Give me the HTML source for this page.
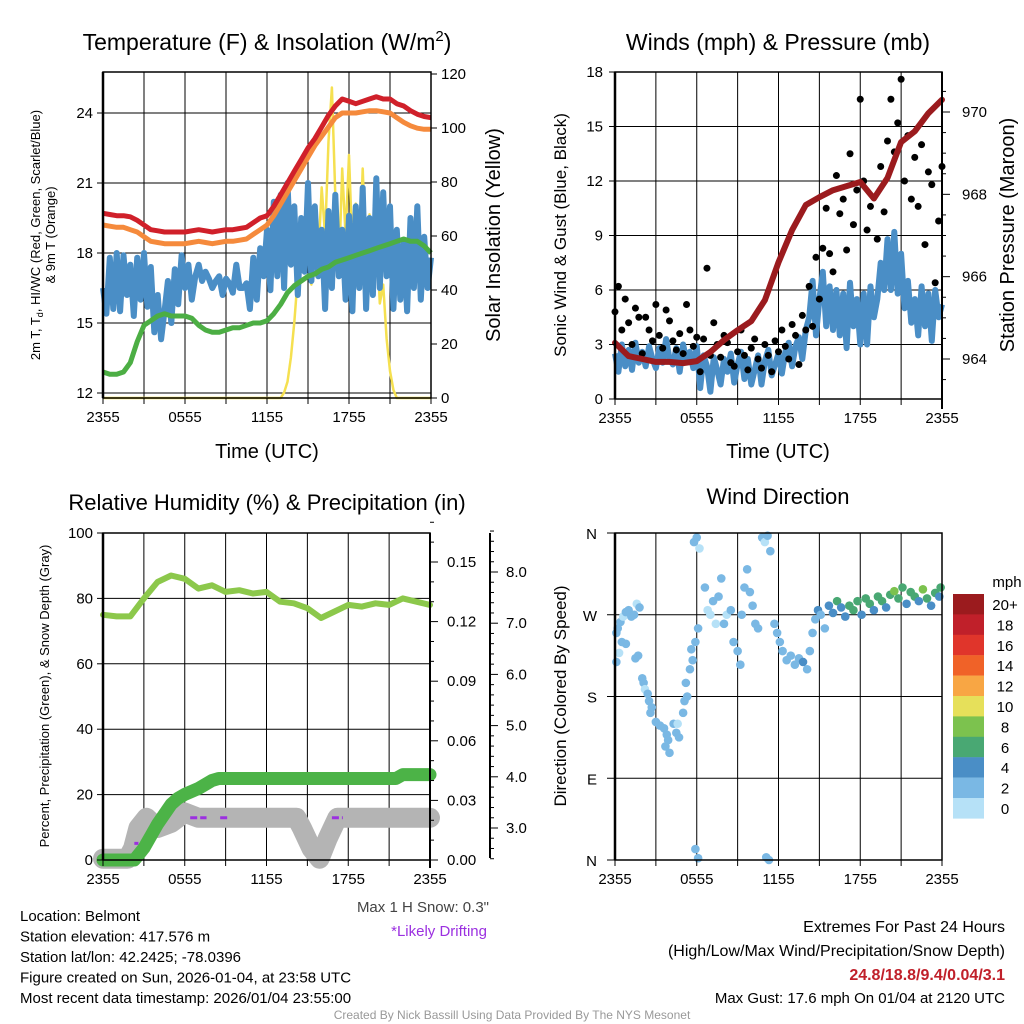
<!DOCTYPE html>
<html><head><meta charset="utf-8">
<style>
html,body{margin:0;padding:0;background:#fff;}
svg{display:block;font-family:"Liberation Sans",Arial,sans-serif;}
</style></head>
<body>
<svg id="c" width="1024" height="1024" viewBox="0 0 1024 1024" xmlns="http://www.w3.org/2000/svg"></svg>
<script>
// ---------- DATA ----------
const timeLabels = ["2355","0555","1155","1755","2355"];
// Panel 1 (every 0.5 h)
const tempRed = [19.7,19.65,19.6,19.6,19.55,19.4,19.2,19.0,18.95,18.9,18.9,18.9,18.9,18.95,19.0,18.95,18.9,18.95,19.0,19.0,19.05,19.1,19.3,19.5,19.6,20.0,20.5,21.0,21.5,22.0,22.5,22.9,23.4,23.9,24.3,24.6,24.5,24.4,24.5,24.6,24.7,24.6,24.6,24.4,24.3,24.1,23.95,23.85,23.8];
const temp9m = [19.2,19.15,19.1,19.1,19.0,18.9,18.7,18.5,18.45,18.4,18.4,18.4,18.4,18.45,18.5,18.45,18.4,18.45,18.5,18.5,18.55,18.6,18.8,19.0,19.2,19.6,20.1,20.6,21.1,21.6,22.1,22.6,23.0,23.4,23.8,24.0,24.0,24.0,24.05,24.1,24.1,24.05,24.0,23.8,23.6,23.45,23.35,23.3,23.3];
const dewpt = [12.9,12.8,12.8,12.9,13.3,14.2,14.9,15.1,15.3,15.4,15.3,15.3,15.3,15.2,14.9,14.7,14.6,14.6,14.7,14.8,14.8,14.9,15.0,15.0,15.1,15.4,15.8,16.3,16.6,16.8,17.0,17.1,17.3,17.4,17.6,17.7,17.8,17.9,18.0,18.1,18.2,18.3,18.4,18.5,18.6,18.5,18.5,18.3,18.0];
// every 15 min
const windChill = [16.5,15.4,17.8,15.6,18.0,15.5,17.9,16.2,17.5,15.3,17.8,16.0,18.0,15.7,17.4,14.6,16.2,14.3,15.5,16.8,15.0,17.3,15.8,17.9,16.5,17.5,16.0,17.0,17.5,16.8,17.2,16.9,16.5,16.8,17.0,16.2,16.9,16.7,16.3,17.5,16.5,16.5,16.7,15.6,17.8,16.0,18.2,17.0,19.0,16.4,20.2,17.0,20.5,16.5,21.0,17.5,20.0,16.2,19.5,17.2,21.0,16.8,20.0,17.0,19.0,15.6,19.8,16.5,20.5,17.0,19.0,16.0,19.6,15.5,20.0,16.5,20.8,15.6,19.5,16.2,21.2,16.5,20.6,17.0,20.0,15.6,19.0,16.0,18.5,15.5,19.5,16.5,20.0,16.0,18.7,16.5,17.8];
const solar = [0,0,0,0,0,0,0,0,0,0,0,0,0,0,0,0,0,0,0,0,0,0,0,0,0,0,0,0,0,0,0,0,0,0,0,0,0,0,0,0,0,0,0,0,0,0,0,0,0,0,0,0,0,2,6,15,28,45,55,48,60,42,70,52,78,60,95,115,75,45,85,60,90,55,72,48,85,52,68,40,62,35,42,22,10,3,0,0,0,0,0,0,0,0,0,0,0];
// Panel 2
const sonicWind = [2.5,1.5,3.0,1.8,2.7,1.6,3.1,2.0,2.6,1.8,2.9,2.2,1.7,2.8,2.0,3.3,2.2,1.9,2.8,1.5,3.0,2.1,2.6,1.7,2.9,0.6,2.4,1.8,0.4,2.3,1.6,0.8,2.2,1.5,2.5,0.9,1.9,2.6,1.1,2.2,0.8,1.6,2.4,0.8,2.1,2.7,1.3,1.9,2.5,1.4,2.6,3.1,1.8,2.9,3.4,2.2,3.8,4.5,6.5,3.5,5.5,7.0,4.0,6.2,3.8,6.0,3.5,5.8,2.8,6.4,4.0,5.5,3.0,5.8,3.0,6.2,4.5,5.5,7.5,6.0,8.8,6.0,9.2,5.8,8.0,5.0,6.5,4.2,5.5,3.5,6.2,4.0,5.8,3.2,6.0,4.5,5.2];
const gust = [4.8,6.2,3.8,5.5,4.2,3.0,5.0,4.5,2.5,4.5,3.8,3.2,5.2,3.5,2.8,4.9,4.3,3.2,2.7,3.6,2.5,5.2,3.8,2.9,3.4,1.5,3.3,7.2,2.4,4.2,3.0,2.3,3.5,3.1,2.0,1.8,2.6,3.8,2.4,1.6,2.8,3.3,2.2,1.7,3.0,2.4,1.5,3.2,2.6,3.8,2.9,2.2,4.1,3.5,1.9,4.6,3.8,6.2,4.0,7.8,5.5,8.3,10.5,8.0,7.0,12.3,10.2,11.0,8.2,13.5,9.6,11.5,16.5,12.0,9.3,10.6,11.1,8.8,12.8,10.3,14.2,16.5,13.6,15.2,17.6,12.0,14.5,11.0,13.3,10.6,14.0,8.5,12.5,11.8,6.4,9.8,12.8];
const pressure = [964.39,964.07,964.0,963.93,963.93,963.9,963.95,964.17,964.46,964.7,964.92,965.43,966.35,967.13,967.74,967.93,968.1,968.2,968.3,967.9,968.4,969.27,969.53,969.97,970.3];
// Panel 3
const rh = [75,74.5,74.5,80,85,87,86,83,84,82,82.5,81.5,82,79,78.5,77,74,76,78,77.5,78.5,78,80,79,78];
const precipH = [0,2.3,3,3.5,4,4.5,5,5.5,6,7,8,8.5,21.5,22,24];
const precipV = [0,0,0.006,0.012,0.018,0.023,0.028,0.031,0.033,0.036,0.04,0.041,0.041,0.043,0.043];
const snowH = [0,1.8,2.2,2.6,3.2,4,5,6,7,14.2,14.6,15.3,15.9,16.5,17.2,24];
const snowV = [2.4,2.4,2.6,3.0,3.2,3.0,3.1,3.3,3.2,3.2,3.0,2.6,2.4,2.8,3.2,3.2];
const driftStart = [2.3,6.4,8.6,16.8];
const driftEnd = [2.6,7.6,9.2,17.6];
const driftV = [2.7,3.2,3.2,3.2];
// Panel 4
const dirH = [0.1,0.2,0.4,0.6,0.8,1,1.2,1.4,1.6,1.8,0.5,0.8,0.3,0.1,1.5,1.7,2,2.1,2.2,2.4,2.5,2.7,2.6,3.0,3.3,3.6,3.8,3.7,4.0,3.9,4.3,4.5,4.7,4.6,5.0,5.1,5.3,5.2,5.5,5.7,5.6,5.9,6.1,5.8,6.0,6.2,5.9,6.1,6.6,6.8,7.0,7.2,7.4,7.6,7.8,8.0,8.2,8.5,8.7,9.0,9.2,9.3,9.5,9.7,9.9,10.1,10.3,10.5,10.8,11.0,11.2,11.4,11.1,11.3,11.7,11.9,12.1,12.3,12.6,12.9,13.2,13.5,13.8,14.1,14.3,14.5,14.7,14.9,15.1,15.4,15.7,16.0,16.3,16.6,16.9,17.2,17.5,17.8,18.1,18.4,18.7,19.0,19.3,19.6,19.9,20.2,20.5,20.8,21.1,21.4,21.7,22.0,22.3,22.6,22.9,23.2,23.5,23.8,23.9];
const dirV = [250,255,262,268,273,275,268,270,282,278,240,238,228,218,222,225,200,195,188,183,175,168,162,152,148,145,138,125,118,132,150,140,135,150,162,175,180,195,210,220,232,240,255,350,355,343,12,2,300,275,270,285,260,290,310,260,270,275,240,230,215,270,300,320,295,280,260,255,355,350,357,340,3,0,260,250,240,230,220,225,215,222,218,210,230,250,265,275,270,255,280,272,285,278,268,280,275,285,270,288,282,275,290,285,278,292,296,288,300,282,295,290,285,298,288,280,294,290,300];
const dirS = [2,2,2,0,2,2,2,2,0,2,2,2,0,2,2,2,2,2,0,2,2,2,2,2,2,2,2,2,2,2,2,2,2,0,2,2,2,2,2,2,2,2,2,2,2,0,2,2,2,0,0,2,0,2,2,2,0,2,2,2,2,2,2,2,2,2,2,2,2,0,2,2,2,2,2,2,2,2,2,2,2,2,4,2,2,2,2,4,2,2,4,4,6,4,4,6,6,6,4,6,6,4,6,6,4,6,8,6,6,4,6,6,4,8,6,4,6,4,6];
const cbLabels = ["20+","18","16","14","12","10","8","6","4","2","0"];
const cbColors = ["#9b1b1e","#c0202a","#e0352b","#f06228","#f8a644","#e6e05a","#7cc24e","#49a873","#4a8ec6","#7ab8e4","#b6e1f7"];

// ---------- DRAW ----------
const NS="http://www.w3.org/2000/svg";
const svg=document.getElementById('c');
function mk(tag,attrs,parent){const e=document.createElementNS(NS,tag);for(const k in attrs)e.setAttribute(k,attrs[k]);(parent||svg).appendChild(e);return e;}
function txt(s,x,y,size,anchor,parent,extra){const t=mk('text',Object.assign({x:x,y:y,'font-size':size,'text-anchor':anchor||'middle',fill:'#000'},extra||{}),parent);t.textContent=s;return t;}
function lin(d,dom0,dom1,r0,r1){return r0+(d-dom0)/(dom1-dom0)*(r1-r0);}
function pathFrom(xs,ys){let d='';for(let i=0;i<xs.length;i++)d+=(i?'L':'M')+xs[i].toFixed(1)+','+ys[i].toFixed(1);return d;}

function panelFrame(g,L,R,T,B,hGrid){
  for(let k=1;k<8;k++){const x=L+(R-L)*k/8;const l=mk('line',{x1:x,y1:T,x2:x,y2:B,stroke:'#000','stroke-width':1},g);
    
    }
  hGrid.forEach(y=>{const l=mk('line',{x1:L,y1:y,x2:R,y2:y,stroke:'#000','stroke-width':1},g);
    
    });
}
function timeAxis(g,L,R,B){
  for(let k=0;k<=8;k++){const x=L+(R-L)*k/8;mk('line',{x1:x,y1:B,x2:x,y2:B+6,stroke:'#000','stroke-width':1},g);}
  timeLabels.forEach((s,i)=>{const t=txt(s,L+(R-L)*i/4,B+24,15,'middle',g);
    
    });
}
function border(g,L,R,T,B){mk('rect',{x:L,y:T,width:R-L,height:B-T,fill:'none',stroke:'#000','stroke-width':1.5},g);mk('line',{x1:L,y1:T,x2:L,y2:B,stroke:'#000','stroke-width':2.5},g);}

// ===== Panel 1 =====
(function(){
  const g=mk('g',{});
  const L=103,R=431,T=72,B=398;
  const X=h=>lin(h,0,24,L,R), Y=v=>lin(v,12,24,393,113), YS=v=>lin(v,0,120,398,74);
  const ticks=[12,15,18,21,24];
  panelFrame(g,L,R,T,B,ticks.map(Y));
  const hx=(arr)=>arr.map((v,i)=>X(i*24/(arr.length-1)));
  const sp=mk('path',{d:pathFrom(hx(solar),solar.map(YS)),fill:'none',stroke:'#f5e050','stroke-width':2.5,'stroke-linejoin':'round'},g);
  
  const wc=mk('path',{d:pathFrom(hx(windChill),windChill.map(Y)),fill:'none',stroke:'#4a8ec6','stroke-width':6,'stroke-linejoin':'round'},g);
  
  const dp=mk('path',{d:pathFrom(hx(dewpt),dewpt.map(Y)),fill:'none',stroke:'#4cae44','stroke-width':5,'stroke-linejoin':'round'},g);
  
  const o=mk('path',{d:pathFrom(hx(temp9m),temp9m.map(Y)),fill:'none',stroke:'#f58a3c','stroke-width':5,'stroke-linejoin':'round'},g);
  
  const r=mk('path',{d:pathFrom(hx(tempRed),tempRed.map(Y)),fill:'none',stroke:'#d0202a','stroke-width':5,'stroke-linejoin':'round'},g);
  
  border(g,L,R,T,B);
  ticks.forEach(v=>{mk('line',{x1:L-6,y1:Y(v),x2:L,y2:Y(v),stroke:'#000'},g);const t=txt(String(v),L-10,Y(v)+5,15,'end',g);});
  for(let v=0;v<=120;v+=20){mk('line',{x1:R,y1:YS(v),x2:R+6,y2:YS(v),stroke:'#000'},g);const t=txt(String(v),R+10,YS(v)+5,15,'start',g);}
  timeAxis(g,L,R,B);
  const ti=txt('',267,50,23,'middle',g);ti.innerHTML='Temperature (F) &amp; Insolation (W/m<tspan dy="-9" font-size="15">2</tspan><tspan dy="9">)</tspan>';
  
  const xt=txt('Time (UTC)',267,458,20,'middle',g);
  const y1=mk('text',{x:0,y:0,'font-size':13,'text-anchor':'middle',transform:'translate(40,235) rotate(-90)'},g);
  y1.innerHTML='2m T, T<tspan font-size="9" dy="3">d</tspan><tspan dy="-3">, HI/WC (Red, Green, Scarlet/Blue)</tspan>';
  
  const y1b=txt('& 9m T (Orange)',0,0,13,'middle',g,{transform:'translate(55,235) rotate(-90)'});
  
  const yr=txt('Solar Insolation (Yellow)',0,0,20,'middle',g,{transform:'translate(500,235) rotate(-90)'});
  
})();

// ===== Panel 2 =====
(function(){
  const g=mk('g',{});
  const L=615,R=942,T=72,B=399;
  const X=h=>lin(h,0,24,L,R), Y=v=>lin(v,0,18,B,T), YP=v=>lin(v,964,970,359,112);
  const ticks=[0,3,6,9,12,15,18];
  panelFrame(g,L,R,T,B,ticks.map(Y));
  const hx=(arr)=>arr.map((v,i)=>X(i*24/(arr.length-1)));
  const sw=mk('path',{d:pathFrom(hx(sonicWind),sonicWind.map(Y)),fill:'none',stroke:'#4a8ec6','stroke-width':6,'stroke-linejoin':'round'},g);
  
  const xs=hx(gust);
  gust.forEach((v,i)=>{const c=mk('circle',{cx:xs[i],cy:Y(v),r:3.5,fill:'#000'},g);
    
    });
  const pp=mk('path',{d:pathFrom(hx(pressure),pressure.map(YP)),fill:'none',stroke:'#9b1b1e','stroke-width':6,'stroke-linejoin':'round','stroke-linecap':'round'},g);
  
  border(g,L,R,T,B);
  ticks.forEach(v=>{mk('line',{x1:L-6,y1:Y(v),x2:L,y2:Y(v),stroke:'#000'},g);const t=txt(String(v),L-12,Y(v)+5,15,'end',g);});
  mk('line',{x1:R,y1:T,x2:R,y2:B+10,stroke:'#000','stroke-width':2},g);
  for(let v=963.5;v<=970.6;v+=0.5){const major=Math.abs(v%2)<0.01;mk('line',{x1:R,y1:YP(v),x2:R+(major?8:4),y2:YP(v),stroke:'#000'},g);}
  [964,966,968,970].forEach(v=>{const t=txt(String(v),R+20,YP(v)+5,15,'start',g);});
  timeAxis(g,L,R,B);
  const ti=txt('Winds (mph) & Pressure (mb)',778,50,23,'middle',g);
  const xt=txt('Time (UTC)',778,458,20,'middle',g);
  const yl=txt('Sonic Wind & Gust (Blue, Black)',0,0,17,'middle',g,{transform:'translate(566,235) rotate(-90)'});
  
  const yr=txt('Station Pressure (Maroon)',0,0,20,'middle',g,{transform:'translate(1014,235) rotate(-90)'});
  
})();

// ===== Panel 3 =====
(function(){
  const g=mk('g',{});
  const L=103,R=430,T=533,B=860;
  const X=h=>lin(h,0,24,L,R), Y=v=>lin(v,0,100,B,T), YPr=v=>lin(v,0,0.15,860,562), YSn=v=>lin(v,3,8,828,572);
  const ticks=[0,20,40,60,80,100];
  panelFrame(g,L,R,T,B,ticks.map(Y));
  const sn=mk('path',{d:pathFrom(snowH.map(X),snowV.map(YSn)),fill:'none',stroke:'#b4b4b4','stroke-width':20,'stroke-linejoin':'round','stroke-linecap':'round'},g);
  
  driftStart.forEach((h,i)=>{const l=mk('line',{x1:X(h),y1:YSn(driftV[i]),x2:X(driftEnd[i]),y2:YSn(driftV[i]),stroke:'#9b30e0','stroke-width':3,'stroke-dasharray':'7,3'},g);
    
    });
  const pr=mk('path',{d:pathFrom(precipH.map(X),precipV.map(YPr)),fill:'none',stroke:'#4cb347','stroke-width':13,'stroke-linejoin':'round','stroke-linecap':'round'},g);
  
  const rx=rh.map((v,i)=>X(i));
  const rl=mk('path',{d:pathFrom(rx,rh.map(Y)),fill:'none',stroke:'#8cc84b','stroke-width':6,'stroke-linejoin':'round','stroke-linecap':'round'},g);
  
  border(g,L,R,T,B);
  ticks.forEach(v=>{mk('line',{x1:L-6,y1:Y(v),x2:L,y2:Y(v),stroke:'#000'},g);const t=txt(String(v),L-10,Y(v)+5,15,'end',g);});
  mk('line',{x1:R,y1:T,x2:R,y2:B+8,stroke:'#000','stroke-width':2},g);
  for(let k=0;k<=17;k++){const v=k*0.01;mk('line',{x1:R,y1:YPr(v),x2:R+(k%3===0?8:4),y2:YPr(v),stroke:'#000'},g);}
  [0,0.03,0.06,0.09,0.12,0.15].forEach(v=>{const t=txt(v.toFixed(2),R+17,YPr(v)+5,15,'start',g);});
  const sx=490;
  mk('line',{x1:sx,y1:533,x2:sx,y2:858,stroke:'#000','stroke-width':2},g);
  for(let v=2.4;v<=8.8;v+=0.2){const major=Math.abs(v-Math.round(v))<0.01;mk('line',{x1:sx,y1:YSn(v),x2:sx+(major?8:4),y2:YSn(v),stroke:'#000'},g);}
  [3,4,5,6,7,8].forEach(v=>{const t=txt(v.toFixed(1),sx+16,YSn(v)+5,15,'start',g);});
  timeAxis(g,L,R,B);
  const ti=txt('Relative Humidity (%) & Precipitation (in)',267,510,22,'middle',g);
  const yl=txt('Percent, Precipitation (Green), & Snow Depth (Gray)',0,0,13,'middle',g,{transform:'translate(49,696) rotate(-90)'});
  
})();

// ===== Panel 4 =====
(function(){
  const g=mk('g',{});
  const L=615,R=942,T=533,B=860;
  const X=h=>lin(h,0,24,L,R), Y=v=>lin(v,0,360,B,T);
  const dirTicks=[0,90,180,270,360], dirNames=["N","E","S","W","N"];
  panelFrame(g,L,R,T,B,dirTicks.map(Y));
  const colorFor=s=>cbColors[10-Math.min(10,Math.floor(s/2))];
  dirH.forEach((h,i)=>{const c=mk('circle',{cx:X(h),cy:Y(dirV[i]),r:4.3,fill:colorFor(dirS[i])},g);
    
    });
  border(g,L,R,T,B);
  dirTicks.forEach((v,i)=>{mk('line',{x1:L-8,y1:Y(v),x2:L,y2:Y(v),stroke:'#000'},g);const t=txt(dirNames[i],L-18,Y(v)+6,15,'end',g);});
  timeAxis(g,L,R,B);
  const ti=txt('Wind Direction',778,504,22,'middle',g);
  const yl=txt('Direction (Colored By Speed)',0,0,17,'middle',g,{transform:'translate(566,696) rotate(-90)'});
  
  const cb=mk('g',{},g);
  cbColors.forEach((c,i)=>{const r=mk('rect',{x:953,y:594+i*20.4,width:31,height:20.6,fill:c},cb);
    
    
    const t=txt(cbLabels[i],1005,594+i*20.4+16,15,'middle',cb);
    
    });
  const u=txt('mph',1007,587,15,'middle',cb);
})();

// ===== Text blocks =====
(function(){
  const g=mk('g',{});
  const lines=["Location: Belmont","Station elevation: 417.576 m","Station lat/lon: 42.2425; -78.0396","Figure created on Sun, 2026-01-04, at 23:58 UTC","Most recent data timestamp: 2026/01/04 23:55:00"];
  lines.forEach((s,i)=>{const t=txt(s,20,921+i*20.5,15,'start',g);});
  const a=txt('Max 1 H Snow: 0.3"',489,912,15,'end',g,{fill:'#444'});
  const b=txt('*Likely Drifting',487,936,15,'end',g,{fill:'#9b30e0'});
  const c=txt('Extremes For Past 24 Hours',1005,932,16,'end',g);
  const d=txt('(High/Low/Max Wind/Precipitation/Snow Depth)',1005,956,16,'end',g);
  const e=txt('24.8/18.8/9.4/0.04/3.1',1005,980,16,'end',g,{fill:'#c0202a','font-weight':'bold'});
  const f=txt('Max Gust: 17.6 mph On 01/04 at 2120 UTC',1005,1003,15,'end',g);
  const h=txt('Created By Nick Bassill Using Data Provided By The NYS Mesonet',512,1019,12,'middle',g,{fill:'#999'});
})();
</script>
</body></html>
